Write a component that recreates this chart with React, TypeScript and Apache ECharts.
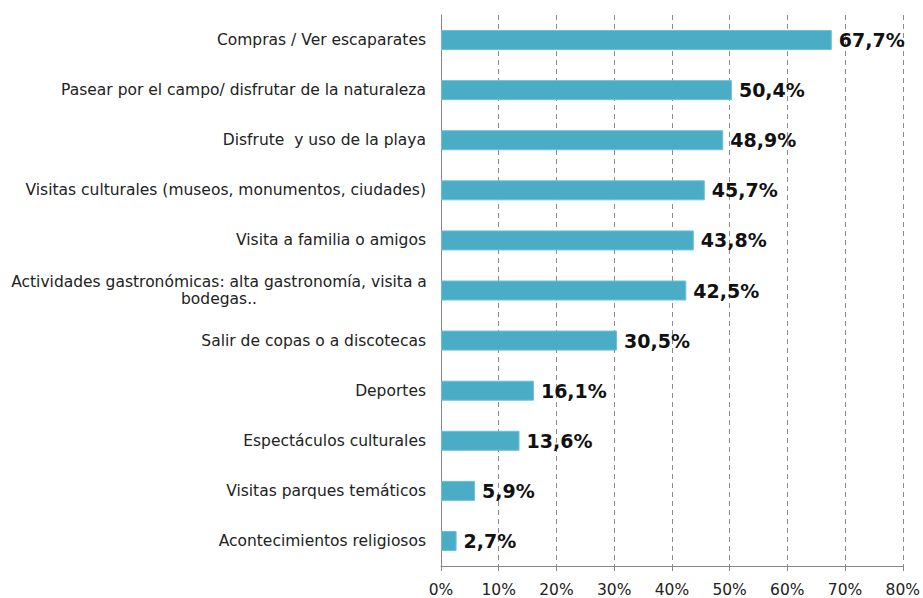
import React, { useEffect, useRef } from "react";
import * as echarts from "echarts";

const categories = [
  "Compras / Ver escaparates",
  "Pasear por el campo/ disfrutar de la naturaleza",
  "Disfrute  y uso de la playa",
  "Visitas culturales (museos, monumentos, ciudades)",
  "Visita a familia o amigos",
  "Actividades gastronómicas: alta gastronomía, visita a\nbodegas..",
  "Salir de copas o a discotecas",
  "Deportes",
  "Espectáculos culturales",
  "Visitas parques temáticos",
  "Acontecimientos religiosos",
];
const values = [67.7, 50.4, 48.9, 45.7, 43.8, 42.5, 30.5, 16.1, 13.6, 5.9, 2.7];
const xTicks = { min: 0, max: 80, interval: 10 };

export default function App() {
  const ref = useRef<HTMLDivElement>(null);
  useEffect(() => {
    const chart = echarts.init(ref.current!, null, { renderer: "svg" });
    chart.setOption({
      animation: false,
      grid: { left: 441, right: 20, top: 15, bottom: 32, containLabel: false },
      xAxis: {
        type: "value",
        min: xTicks.min,
        max: xTicks.max,
        interval: xTicks.interval,
        axisLine: { show: true, lineStyle: { color: "#868686", width: 1 } },
        axisTick: { show: true, length: 5, lineStyle: { color: "#868686" } },
        axisLabel: {
          formatter: (v: number) => v + "%",
          color: "#222",
          fontFamily: "DejaVu Sans",
          fontSize: 15.5,
          margin: 16,
        },
        splitLine: { show: true, lineStyle: { color: "#8c8c8c", type: [5, 4], width: 1 } },
      },
      yAxis: {
        type: "category",
        inverse: true,
        data: categories,
        axisLine: { show: true, lineStyle: { color: "#868686", width: 1 } },
        axisTick: { show: false },
        axisLabel: {
          color: "#222",
          fontFamily: "DejaVu Sans",
          fontSize: 15.5,
          margin: 15,
          lineHeight: 17,
          formatter: (v: string) => (v.indexOf("\n") >= 0 ? "{c|" + v.replace("\n", "}\n{c|") + "}" : v),
          rich: {
            c: {
              width: 414,
              align: "center",
              fontSize: 15.5,
              fontFamily: "DejaVu Sans",
              color: "#222",
              lineHeight: 17,
            },
          },
        },
      },
      series: [
        {
          type: "bar",
          data: values,
          barWidth: 20,
          itemStyle: { color: "#4BACC6", borderColor: "#6cc0d6", borderWidth: 1 },
          label: {
            show: true,
            position: "right",
            distance: 7,
            formatter: (p: any) => p.value.toFixed(1).replace(".", ",") + "%",
            fontFamily: "DejaVu Sans",
            fontWeight: "bold",
            fontSize: 19,
            color: "#111",
          },
        },
      ],
    });
    return () => chart.dispose();
  }, []);
  return <div ref={ref} style={{ width: 923, height: 598, position: "absolute", left: 0, top: 0 }} />;
}
